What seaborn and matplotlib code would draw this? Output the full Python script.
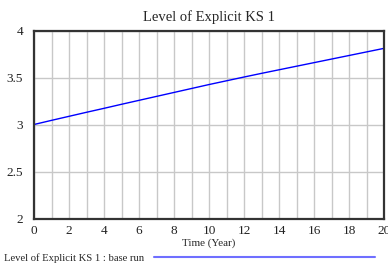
import pandas as pd
import seaborn as sns
import matplotlib.pyplot as plt
from matplotlib.lines import Line2D

years = list(range(21))
level = [3.000, 3.044, 3.087, 3.130, 3.172, 3.215, 3.257, 3.299, 3.341, 3.383,
         3.425, 3.465, 3.505, 3.544, 3.582, 3.620, 3.658, 3.696, 3.734, 3.772, 3.810]
series_name = "Level of Explicit KS 1 : base run"
x_ticks = [0, 2, 4, 6, 8, 10, 12, 14, 16, 18, 20]
y_ticks = [2, 2.5, 3, 3.5, 4]
y_tick_labels = ["2", "2.5", "3", "3.5", "4"]


def set_style():
    sns.set_style("white")
    plt.rcParams.update({
        'font.family': ['Liberation Serif', 'DejaVu Serif'],
        'font.size': 8,
    })


def make_plot():
    set_style()
    df = pd.DataFrame({'Time': years, 'Level': level})

    fig = plt.figure(figsize=(3.88, 2.70), dpi=100)
    ax = fig.add_axes([34 / 388, 1 - 218.5 / 270, 350 / 388, 188 / 270])

    sns.lineplot(data=df, x='Time', y='Level', ax=ax, color='#0000ff', linewidth=1.0)

    ax.set_xlim(0, 20)
    ax.set_ylim(2, 4)
    ax.set_xticks(x_ticks)
    ax.set_xticks(years, minor=True)
    ax.set_yticks(y_ticks)
    ax.set_yticklabels(y_tick_labels)
    ax.grid(True, which='both', axis='x', color='#c8c8c8', linewidth=1.0)
    ax.grid(True, which='major', axis='y', color='#c8c8c8', linewidth=1.0)
    ax.set_axisbelow(True)
    ax.tick_params(axis='both', which='both', length=0, labelsize=9.5, colors='#222222')
    ax.tick_params(axis='x', pad=4.5)
    ax.tick_params(axis='y', pad=8)

    for side in ['left', 'bottom', 'top', 'right']:
        ax.spines[side].set_visible(True)
        ax.spines[side].set_color('#333333')
        ax.spines[side].set_linewidth(1.6)

    ax.set_xlabel("Time (Year)", fontsize=8, labelpad=1.5)
    ax.set_ylabel("")
    ax.set_title("Level of Explicit KS 1", fontsize=10.5, pad=7)

    handle = Line2D([], [], color='#6f6fff', linewidth=1.5)
    fig.legend([handle], [series_name], loc='center left',
               bbox_to_anchor=(0.005, 1 - 258 / 270), frameon=False,
               markerfirst=False, handlelength=20.7, handletextpad=0.9,
               fontsize=7.7, borderaxespad=0, borderpad=0.2)

    plt.savefig('out.png', dpi=100)


if __name__ == "__main__":
    make_plot()
